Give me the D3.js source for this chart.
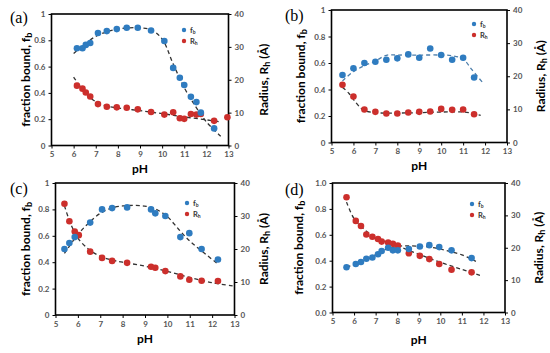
<!DOCTYPE html>
<html>
<head>
<meta charset="utf-8">
<script src="https://cdn.jsdelivr.net/npm/d3@7"></script>
<style>
  body { margin: 0; background: #fff; }
  svg { display: block; }
  text { font-family: Lato, "Open Sans", "DejaVu Sans", sans-serif; }
</style>
</head>
<body>
<svg id="chart" width="550" height="353"></svg>
<script>
// ---- data ----
const phTicks = [5, 6, 7, 8, 9, 10, 11, 12, 13]
const fbTicks = [0, 0.2, 0.4, 0.6, 0.8, 1]
const rhTicks = [0, 10, 20, 30, 40]

// (a)
const aFbPH = [6.15, 6.4, 6.55, 6.75, 7.1, 7.5, 7.95, 8.4, 8.9, 9.5, 10.1, 10.5, 10.8, 11.0, 11.3, 11.55, 11.75, 12.35]
const aFb = [0.74, 0.74, 0.765, 0.78, 0.855, 0.87, 0.885, 0.895, 0.895, 0.875, 0.795, 0.59, 0.515, 0.46, 0.37, 0.33, 0.25, 0.13]
const aRhPH = [6.15, 6.4, 6.55, 6.75, 7.1, 7.5, 7.95, 8.4, 8.9, 9.5, 10.1, 10.5, 10.8, 11.0, 11.3, 11.55, 11.75, 12.35, 12.95]
const aRh = [18.2, 17.3, 16.1, 14.9, 12.6, 11.8, 11.6, 11.5, 11.0, 10.2, 9.4, 10.1, 8.3, 8.1, 9.6, 9.4, 9.6, 7.5, 8.6]
const aFbFitPH = [6.0, 6.5, 7.0, 7.5, 8.0, 8.5, 9.0, 9.5, 10.0, 10.5, 11.0, 11.5, 12.0, 12.65]
const aFbFit = [0.70, 0.77, 0.83, 0.865, 0.885, 0.895, 0.895, 0.88, 0.81, 0.62, 0.44, 0.30, 0.18, 0.07]
const aRhFitPH = [6.0, 6.5, 7.0, 7.5, 8.0, 9.0, 10.0, 11.0, 12.0, 12.65]
const aRhFit = [20.8, 16.3, 13.3, 12.0, 11.4, 10.6, 9.7, 8.7, 7.8, 7.2]

// (b)
const bPH = [5.5, 6, 6.5, 7, 7.5, 8, 8.5, 9, 9.5, 10, 10.5, 11, 11.5]
const bFb = [0.51, 0.56, 0.60, 0.61, 0.625, 0.635, 0.665, 0.64, 0.71, 0.66, 0.625, 0.64, 0.49]
const bRh = [17.4, 13.9, 9.95, 9.25, 8.75, 8.75, 9.05, 9.25, 9.35, 10.15, 9.85, 9.95, 8.55]
const bFbFitPH = [5.5, 6.0, 6.5, 7.0, 7.5, 8.0, 9.0, 10.0, 10.5, 11.0, 11.4, 11.9]
const bFbFit = [0.465, 0.535, 0.58, 0.615, 0.658, 0.66, 0.66, 0.66, 0.655, 0.63, 0.55, 0.45]
const bRhFitPH = [5.5, 5.8, 6.0, 6.3, 6.5, 7, 8, 9, 10, 11, 11.5, 11.8]
const bRhFit = [16.7, 14.8, 13.0, 10.6, 9.6, 9.0, 8.9, 9.0, 9.2, 9.2, 8.7, 8.2]

// (c)
const cFbPH = [5.4, 5.62, 5.86, 6.55, 7.08, 7.53, 8.2, 9.27, 9.46, 9.91, 10.58, 10.98, 11.53, 12.26]
const cFb = [0.50, 0.545, 0.59, 0.70, 0.80, 0.81, 0.815, 0.80, 0.77, 0.75, 0.59, 0.62, 0.50, 0.42]
const cRhPH = [5.4, 5.62, 5.86, 6.04, 6.55, 7.08, 7.53, 8.2, 9.27, 9.46, 9.91, 10.58, 10.98, 11.53, 12.26]
const cRh = [33.7, 28.4, 25.3, 24.2, 19.2, 17.3, 16.4, 15.8, 14.6, 14.3, 13.3, 11.7, 10.7, 10.4, 10.3]
const cFbFitPH = [5.4, 6.0, 6.5, 7.0, 7.5, 8.0, 8.5, 9.0, 9.5, 10.0, 10.5, 11.0, 11.5, 12.2]
const cFbFit = [0.467, 0.61, 0.70, 0.77, 0.81, 0.826, 0.83, 0.825, 0.80, 0.745, 0.65, 0.56, 0.49, 0.394]
const cRhFitPH = [5.4, 5.6, 5.8, 6.0, 6.5, 7.0, 7.5, 8.0, 9.0, 10.0, 11.0, 12.0, 12.95]
const cRhFit = [33.1, 29.0, 25.8, 23.3, 19.8, 17.8, 16.7, 16.0, 14.8, 13.2, 11.4, 9.8, 8.8]

// (d)
const dPH = [5.65, 6.08, 6.32, 6.57, 6.85, 7.11, 7.28, 7.58, 7.8, 8.03, 8.54, 9.05, 9.49, 9.95, 10.52, 11.45]
const dFb = [0.35, 0.375, 0.39, 0.415, 0.425, 0.45, 0.475, 0.50, 0.48, 0.48, 0.49, 0.51, 0.52, 0.505, 0.48, 0.42]
const dRh = [35.6, 28.3, 26.7, 24.1, 23.4, 22.7, 21.9, 21.6, 21.2, 20.7, 18.3, 17.5, 16.5, 15.0, 13.2, 12.4]
const dFbFitPH = [5.65, 6.0, 6.5, 7.0, 7.5, 8.0, 8.5, 9.0, 9.5, 10.0, 10.5, 11.0, 11.65]
const dFbFit = [0.35, 0.37, 0.40, 0.445, 0.49, 0.51, 0.515, 0.512, 0.505, 0.49, 0.47, 0.445, 0.395]
const dRhFitPH = [5.65, 6.0, 6.5, 7.0, 7.5, 8.0, 9.0, 10.0, 11.0, 11.95]
const dRhFit = [34.1, 29.0, 25.5, 23.2, 21.8, 20.6, 18.0, 15.5, 13.3, 11.2]

const BLUE = '#2f7cc0', RED = '#cc2f2c', TICK_TEXT = '#555'

// ---- panel layout ----
const panels = [
  {label: '(a)', lx: 10, ly: 23, left: 51.5, right: 228.5, top: 14, bottom: 145.5, ltx: 25, rtx: 263, pHy: 168,
    legX: 184, legY: 30, decimals: false, fbFitColor: '#333',
    fbPH: aFbPH, fb: aFb, rhPH: aRhPH, rh: aRh, fbFitPH: aFbFitPH, fbFit: aFbFit, rhFitPH: aRhFitPH, rhFit: aRhFit},
  {label: '(b)', lx: 285, ly: 21, left: 331.5, right: 507, top: 10, bottom: 142.5, ltx: 300, rtx: 540, pHy: 165,
    legX: 474, legY: 24, decimals: false, fbFitColor: '#4d7eaa',
    fbPH: bPH, fb: bFb, rhPH: bPH, rh: bRh, fbFitPH: bFbFitPH, fbFit: bFbFit, rhFitPH: bRhFitPH, rhFit: bRhFit},
  {label: '(c)', lx: 10, ly: 194, left: 55.5, right: 234.5, top: 183, bottom: 315, ltx: 25, rtx: 263, pHy: 338,
    legX: 187, legY: 203, decimals: false, fbFitColor: '#333',
    fbPH: cFbPH, fb: cFb, rhPH: cRhPH, rh: cRh, fbFitPH: cFbFitPH, fbFit: cFbFit, rhFitPH: cRhFitPH, rhFit: cRhFit},
  {label: '(d)', lx: 285, ly: 195, left: 332.5, right: 505, top: 183, bottom: 312.5, ltx: 298, rtx: 538, pHy: 339,
    legX: 472, legY: 204, decimals: true, fbFitColor: '#333',
    fbPH: dPH, fb: dFb, rhPH: dPH, rh: dRh, fbFitPH: dFbFitPH, fbFit: dFbFit, rhFitPH: dRhFitPH, rhFit: dRhFit}
]

const svg = d3.select('#chart')

function styleAxis(sel) {
  sel.select('.domain').remove()
  sel.selectAll('.tick line').attr('stroke', '#000').attr('stroke-width', 1)
  sel.selectAll('.tick text')
    .attr('fill', TICK_TEXT)
    .style('font-size', '8px')
    .style('font-weight', 'bold')
    .style('font-family', 'Lato, "Open Sans", sans-serif')
}

function drawPanel(p) {
  const g = svg.append('g')
  const x = d3.scaleLinear().domain([5, 13]).range([p.left, p.right])
  const yL = d3.scaleLinear().domain([0, 1]).range([p.bottom, p.top])
  const yR = d3.scaleLinear().domain([0, 40]).range([p.bottom, p.top])

  const fbFmt = p.decimals ? d3.format('.1f') : (d => (d === 0 || d === 1) ? String(d) : d.toFixed(1))

  g.append('g').attr('transform', `translate(0,${p.bottom})`)
    .call(d3.axisBottom(x).tickValues(phTicks).tickSize(3).tickPadding(3).tickFormat(d3.format('d')))
    .call(styleAxis)
  g.append('g').attr('transform', `translate(${p.left},0)`)
    .call(d3.axisLeft(yL).tickValues(fbTicks).tickSize(3).tickPadding(3).tickFormat(fbFmt))
    .call(styleAxis)
  g.append('g').attr('transform', `translate(${p.right},0)`)
    .call(d3.axisRight(yR).tickValues(rhTicks).tickSize(3).tickPadding(3).tickFormat(d3.format('d')))
    .call(styleAxis)

  // frame
  g.append('rect')
    .attr('x', p.left).attr('y', p.top)
    .attr('width', p.right - p.left).attr('height', p.bottom - p.top)
    .attr('fill', 'none').attr('stroke', '#000').attr('stroke-width', 1.6)

  // fitted curves
  const lineL = d3.line().x(d => x(d[0])).y(d => yL(d[1])).curve(d3.curveCatmullRom)
  const lineR = d3.line().x(d => x(d[0])).y(d => yR(d[1])).curve(d3.curveCatmullRom)
  g.append('path').datum(d3.zip(p.fbFitPH, p.fbFit))
    .attr('d', lineL).attr('fill', 'none')
    .attr('stroke', p.fbFitColor).attr('stroke-width', 1.3).attr('stroke-dasharray', '4,3')
  g.append('path').datum(d3.zip(p.rhFitPH, p.rhFit))
    .attr('d', lineR).attr('fill', 'none')
    .attr('stroke', '#333').attr('stroke-width', 1.3).attr('stroke-dasharray', '4,3')

  // points
  g.append('g').selectAll('circle').data(d3.zip(p.rhPH, p.rh)).enter().append('circle')
    .attr('cx', d => x(d[0])).attr('cy', d => yR(d[1])).attr('r', 3.3).attr('fill', RED)
  g.append('g').selectAll('circle').data(d3.zip(p.fbPH, p.fb)).enter().append('circle')
    .attr('cx', d => x(d[0])).attr('cy', d => yL(d[1])).attr('r', 3.3).attr('fill', BLUE)

  // legend
  const leg = g.append('g')
  const items = [{c: BLUE, t: 'f', s: 'b'}, {c: RED, t: 'R', s: 'h'}]
  items.forEach((it, i) => {
    const yy = p.legY + i * 11
    leg.append('circle').attr('cx', p.legX).attr('cy', yy).attr('r', 2.2).attr('fill', it.c)
    const t = leg.append('text').attr('x', p.legX + 6).attr('y', yy + 2.5)
      .attr('fill', '#333').style('font-size', '7.5px').style('font-weight', 'bold')
    t.append('tspan').text(it.t)
    t.append('tspan').attr('dy', 1.5).style('font-size', '5px').text(it.s)
  })

  // axis titles
  const midY = (p.top + p.bottom) / 2
  const lt = g.append('text')
    .attr('transform', `translate(${p.ltx},${midY}) rotate(-90)`)
    .attr('text-anchor', 'middle').attr('dominant-baseline', 'central')
    .attr('fill', '#000').style('font-size', '12px').style('font-weight', 'bold')
  lt.append('tspan').text('fraction bound, f')
  lt.append('tspan').attr('dy', 3).style('font-size', '9px').text('b')

  const rt = g.append('text')
    .attr('transform', `translate(${p.rtx},${midY}) rotate(-90)`)
    .attr('text-anchor', 'middle').attr('dominant-baseline', 'central')
    .attr('fill', '#000').style('font-size', '12px').style('font-weight', 'bold')
  rt.append('tspan').text('Radius, R')
  rt.append('tspan').attr('dy', 3).style('font-size', '9px').text('h')
  rt.append('tspan').attr('dy', -3).text(' (Å)')

  g.append('text')
    .attr('x', (p.left + p.right) / 2).attr('y', p.pHy)
    .attr('text-anchor', 'middle').attr('dominant-baseline', 'central')
    .attr('fill', '#000').style('font-size', '12px').style('font-weight', 'bold')
    .text('pH')

  g.append('text')
    .attr('x', p.lx).attr('y', p.ly)
    .attr('fill', '#000')
    .style('font-family', '"Liberation Serif", "DejaVu Serif", serif')
    .style('font-size', '16px')
    .text(p.label)
}

panels.forEach(drawPanel)
</script>
</body>
</html>
